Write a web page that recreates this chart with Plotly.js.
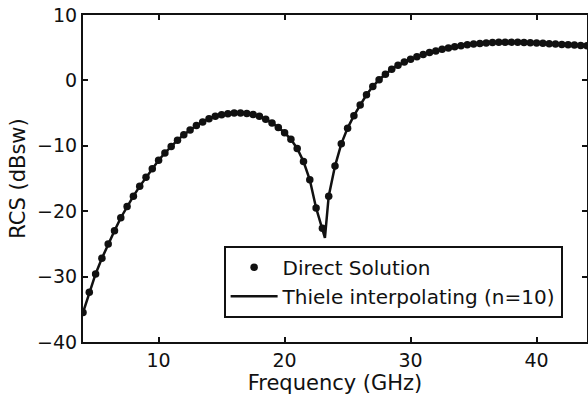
<!DOCTYPE html>
<html>
<head>
<meta charset="utf-8">
<script src="https://cdn.plot.ly/plotly-3.0.1.min.js"></script>
<style>html,body{margin:0;padding:0;background:#fff;}#chart{width:588px;height:398px;}</style>
</head>
<body>
<div id="chart"></div>
<script>
// Direct Solution samples (GHz, dBsw)
const dotFreq = [4.0,4.5,5.0,5.5,6.0,6.5,7.0,7.5,8.0,8.5,9.0,9.5,10.0,10.5,11.0,11.5,12.0,12.5,13.0,13.5,14.0,14.5,15.0,15.5,16.0,16.5,17.0,17.5,18.0,18.5,19.0,19.5,20.0,20.5,21.0,21.5,22.0,22.5,23.0,23.5,24.0,24.5,25.0,25.5,26.0,26.5,27.0,27.5,28.0,28.5,29.0,29.5,30.0,30.5,31.0,31.5,32.0,32.5,33.0,33.5,34.0,34.5,35.0,35.5,36.0,36.5,37.0,37.5,38.0,38.5,39.0,39.5,40.0,40.5,41.0,41.5,42.0,42.5,43.0,43.5,44.0];
const dotRcs = [-35.5,-32.4,-29.6,-27.2,-25.0,-23.0,-21.0,-19.3,-17.7,-16.2,-14.8,-13.5,-12.2,-11.1,-10.1,-9.15,-8.3,-7.6,-6.9,-6.35,-5.85,-5.5,-5.25,-5.1,-5.0,-5.0,-5.05,-5.2,-5.5,-5.95,-6.5,-7.2,-8.0,-9.0,-10.4,-12.4,-15.2,-19.5,-22.6,-17.7,-13.1,-9.7,-7.3,-5.4,-3.75,-2.2,-0.95,0.1,0.95,1.7,2.3,2.8,3.25,3.6,3.95,4.25,4.5,4.75,4.95,5.15,5.3,5.45,5.55,5.65,5.72,5.78,5.82,5.85,5.85,5.83,5.8,5.77,5.72,5.67,5.62,5.56,5.5,5.45,5.4,5.35,5.3];
// Thiele interpolating curve (n=10)
const lineFreq = [4.0,4.5,5.0,5.5,6.0,6.5,7.0,7.5,8.0,8.5,9.0,9.5,10.0,10.5,11.0,11.5,12.0,12.5,13.0,13.5,14.0,14.5,15.0,15.5,16.0,16.5,17.0,17.5,18.0,18.5,19.0,19.5,20.0,20.5,21.0,21.5,22.0,22.5,23.0,23.2,23.5,24.0,24.5,25.0,25.5,26.0,26.5,27.0,27.5,28.0,28.5,29.0,29.5,30.0,30.5,31.0,31.5,32.0,32.5,33.0,33.5,34.0,34.5,35.0,35.5,36.0,36.5,37.0,37.5,38.0,38.5,39.0,39.5,40.0,40.5,41.0,41.5,42.0,42.5,43.0,43.5,44.0];
const lineRcs = [-35.5,-32.4,-29.6,-27.2,-25.0,-23.0,-21.0,-19.3,-17.7,-16.2,-14.8,-13.5,-12.2,-11.1,-10.1,-9.15,-8.3,-7.6,-6.9,-6.35,-5.85,-5.5,-5.25,-5.1,-5.0,-5.0,-5.05,-5.2,-5.5,-5.95,-6.5,-7.2,-8.0,-9.0,-10.4,-12.4,-15.2,-19.5,-22.6,-24.1,-17.7,-13.1,-9.7,-7.3,-5.4,-3.75,-2.2,-0.95,0.1,0.95,1.7,2.3,2.8,3.25,3.6,3.95,4.25,4.5,4.75,4.95,5.15,5.3,5.45,5.55,5.65,5.72,5.78,5.82,5.85,5.85,5.83,5.8,5.77,5.72,5.67,5.62,5.56,5.5,5.45,5.4,5.35,5.3];
const xTicks = [10,20,30,40];
const yTicks = [-40,-30,-20,-10,0,10];
const names = ["Direct Solution","Thiele interpolating (n=10)"];

const font = "DejaVu Sans, Arial, sans-serif";
const traces = [
  {x: dotFreq, y: dotRcs, name: names[0], mode: "markers", type: "scatter",
   marker: {color: "#111", size: 7.5}},
  {x: lineFreq, y: lineRcs, name: names[1], mode: "lines", type: "scatter",
   line: {color: "#111", width: 2.5}}
];
const axisCommon = {showgrid: false, zeroline: false, showline: true, linecolor: "#111", linewidth: 2,
  mirror: "ticks", ticks: "inside", ticklen: 5, tickwidth: 2, tickcolor: "#111",
  tickfont: {family: font, size: 19, color: "#111"}};
const layout = {
  width: 588, height: 398,
  margin: {l: 83, r: 1, t: 15, b: 56},
  paper_bgcolor: "#fff", plot_bgcolor: "#fff",
  showlegend: true,
  xaxis: Object.assign({}, axisCommon, {range: [4, 44], tickvals: xTicks, ticktext: xTicks.map(String),
    title: {text: "Frequency (GHz)", font: {family: font, size: 21, color: "#111"}, standoff: 3}}),
  yaxis: Object.assign({}, axisCommon, {range: [-40, 10], tickvals: yTicks,
    title: {text: "RCS (dBsw)", font: {family: font, size: 21, color: "#111"}, standoff: 6}}),
  legend: {x: 0.279, y: 0.294, xanchor: "left", yanchor: "top", bgcolor: "#fff",
    bordercolor: "#111", borderwidth: 2, font: {family: font, size: 20, color: "#111"},
    tracegroupgap: 0, itemwidth: 47}
};
Plotly.newPlot("chart", traces, layout, {staticPlot: true});
</script>
</body>
</html>
